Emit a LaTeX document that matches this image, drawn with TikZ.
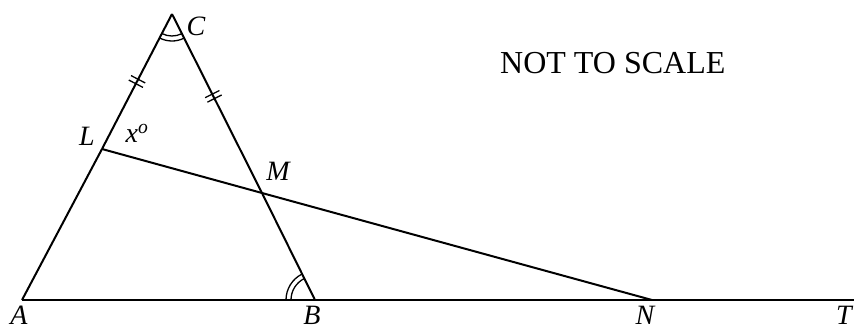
\documentclass[tikz,border=0pt]{standalone}
\usepackage{fontspec}
\setmainfont{Liberation Serif}
\usetikzlibrary{calc,decorations.markings}
\begin{document}
\begin{tikzpicture}[x=1pt,y=-1pt,
  seg/.style={line width=2pt},
  lab/.style={font=\fontsize{28}{30}\selectfont\itshape, inner sep=0pt},
  anglemark/.style={line width=1.3pt},
  dtick/.style={postaction={decorate}, decoration={markings, mark=at position #1 with {\draw[line width=1.3pt] (-2.5pt,-8pt) -- (-2.5pt,8pt) (2.5pt,-8pt) -- (2.5pt,8pt);}}}
]
\useasboundingbox (0,0) rectangle (854,330);
\coordinate (A) at (22,300);
\coordinate (B) at (315,300);
\coordinate (C) at (172,14);
\coordinate (L) at (102,149);
\coordinate (M) at (262,193);
\coordinate (N) at (652,300);
\coordinate (T) at (854,300);
% triangle sides
\draw[seg, dtick=0.5] (C) -- (L);
\draw[seg] (L) -- (A);
\draw[seg] (A) -- (B) -- (N) -- (T);
\draw[seg, dtick=0.46] (C) -- (M);
\draw[seg] (M) -- (B);
\draw[seg] (L) -- (M) -- (N);
% angle marks
\draw[anglemark] ($(C)+(63.4:22)$) arc[start angle=63.4, end angle=117.7, radius=22];
\draw[anglemark] ($(C)+(63.4:27)$) arc[start angle=63.4, end angle=117.7, radius=27];
\draw[anglemark] ($(B)+(180:24)$) arc[start angle=180, end angle=243.4, radius=24];
\draw[anglemark] ($(B)+(180:29)$) arc[start angle=180, end angle=243.4, radius=29];
% labels
\node[lab] (lC) at (196,26) {C};
\node[lab] (lL) at (87,136) {L};
\node[lab] (lx) at (137,133) {x\textsuperscript{o}};
\node[lab] (lM) at (278,171) {M};
\node[lab] (lA) at (19,315) {A};
\node[lab] (lB) at (312,315) {B};
\node[lab] (lN) at (645,315) {N};
\node[lab] (lT) at (844,315) {T};
\node[font=\fontsize{32}{34}\selectfont, inner sep=0pt, anchor=west] (nts) at (500,63) {NOT TO SCALE};
\end{tikzpicture}
\end{document}
